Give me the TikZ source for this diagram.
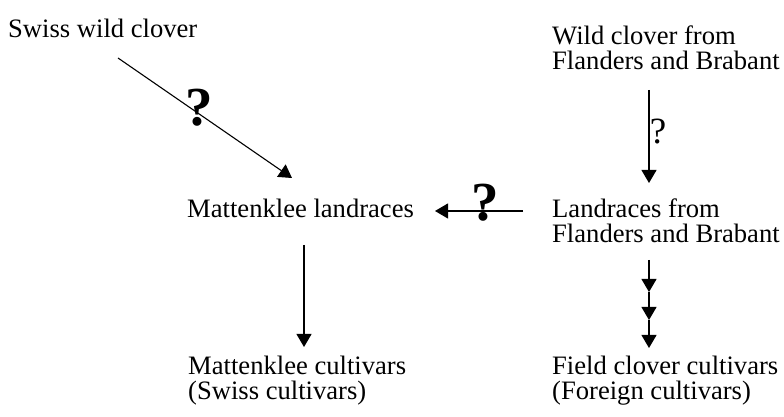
\documentclass[tikz,border=0pt]{standalone}
\usepackage{fontspec}
\setmainfont{Liberation Serif}
\usetikzlibrary{arrows.meta}
\begin{document}
\begin{tikzpicture}[x=1pt,y=1pt,
  lbl/.style={inner sep=0pt,anchor=base west,align=left,font=\fontsize{26.6}{25}\selectfont},
  conn/.style={line width=1.1pt,-{Triangle[width=15pt,length=13pt]}},
  bq/.style={inner sep=0pt,font=\fontsize{55}{55}\selectfont\bfseries},
  rq/.style={inner sep=0pt,font=\fontsize{37}{37}\selectfont}]
\useasboundingbox (0,0) rectangle (784,417);
% text nodes (base = baseline of last line)
\node[lbl] (swiss) at (8,379) {Swiss wild clover};
\node[lbl] (wild) at (552,347) {Wild clover from\\Flanders and Brabant};
\node[lbl] (matt) at (187,199) {Mattenklee landraces};
\node[lbl] (landr) at (552,174) {Landraces from\\Flanders and Brabant};
\node[lbl] (mattcult) at (188,17) {Mattenklee cultivars\\(Swiss cultivars)};
\node[lbl] (fieldcult) at (552,17) {Field clover cultivars\\(Foreign cultivars)};
% connector end points
\coordinate (d1) at (118,359);
\coordinate (d2) at (292,239);
\coordinate (h1) at (523,206);
\coordinate (h2) at (435,206);
\coordinate (r1) at (649,327);
\coordinate (r2) at (649,234);
\coordinate (l1) at (304,172);
\coordinate (l2) at (304,70);
\coordinate (t1) at (649,157);
\coordinate (t2) at (649,125);
\coordinate (t3) at (649,97);
\coordinate (t4) at (649,69);
% connectors
\draw[conn] (d1) -- (d2);
\draw[conn] (h1) -- (h2);
\draw[conn] (r1) -- (r2);
\draw[conn] (l1) -- (l2);
\draw[conn] (t1) -- (t2);
\draw[conn] (t2) -- (t3);
\draw[conn] (t3) -- (t4);
% question marks
\node[bq] (q1) at (199,309) {?};
\node[bq] (q2) at (485,214) {?};
\node[rq] (q3) at (658,285) {?};
\end{tikzpicture}
\end{document}
